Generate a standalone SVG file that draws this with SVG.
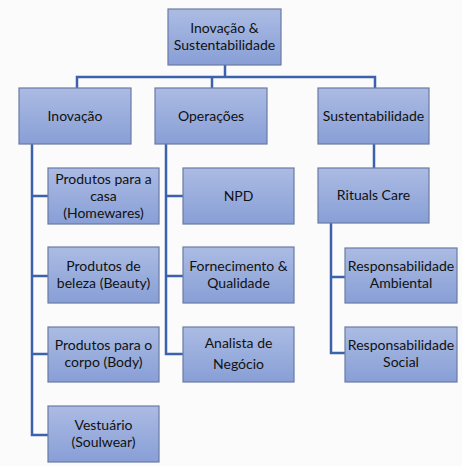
<svg xmlns="http://www.w3.org/2000/svg" width="462" height="466" viewBox="0 0 462 466">
<defs>
<linearGradient id="g" x1="0" y1="0" x2="0" y2="1">
<stop offset="0" stop-color="#abbbe3"/>
<stop offset="1" stop-color="#889fd6"/>
</linearGradient>
</defs>
<style>
.box{fill:url(#g);stroke:#6b7ba3;stroke-width:1.2}
.t{font-family:Lato,"Liberation Sans",sans-serif;font-size:14px;fill:#111;text-anchor:middle}
.c{fill:none;stroke:#3d62ad;stroke-width:2.5}
</style>
<rect width="462" height="466" fill="#fbfbfb"/>
<g id="connectors">
<path class="c" d="M225 65V77M77 88V77H375V88M212 77V88"/>
<path class="c" d="M32 144V435H48M32 196H48M32 276H48M32 354H48"/>
<path class="c" d="M166 144V354H183M166 196H183M166 276H183"/>
<path class="c" d="M374 144V168"/>
<path class="c" d="M331 223V353H345M331 277H345"/>
</g>
<g id="root"><rect class="box" x="168" y="9" width="113" height="56"/><text class="t" x="224.5" y="33">Inovação &amp;</text><text class="t" x="224.5" y="50">Sustentabilidade</text></g>
<g id="inovacao"><rect class="box" x="19" y="88" width="112" height="56"/><text class="t" x="75" y="121">Inovação</text></g>
<g id="operacoes"><rect class="box" x="155" y="88" width="112" height="56"/><text class="t" x="211" y="121">Operações</text></g>
<g id="sustentabilidade"><rect class="box" x="318" y="88" width="111" height="56"/><text class="t" x="373.5" y="121">Sustentabilidade</text></g>
<g id="casa"><rect class="box" x="48" y="168" width="111" height="56"/><text class="t" x="103.5" y="184">Produtos para a</text><text class="t" x="103.5" y="201">casa</text><text class="t" x="103.5" y="218">(Homewares)</text></g>
<g id="beleza"><rect class="box" x="48" y="247" width="111" height="56"/><text class="t" x="103.5" y="271">Produtos de</text><text class="t" x="103.5" y="288">beleza (Beauty)</text></g>
<g id="corpo"><rect class="box" x="48" y="327" width="111" height="55"/><text class="t" x="103.5" y="350">Produtos para o</text><text class="t" x="103.5" y="367">corpo (Body)</text></g>
<g id="vestuario"><rect class="box" x="48" y="406" width="111" height="56"/><text class="t" x="103.5" y="430">Vestuário</text><text class="t" x="103.5" y="447">(Soulwear)</text></g>
<g id="npd"><rect class="box" x="183" y="168" width="111" height="56"/><text class="t" x="238.5" y="201">NPD</text></g>
<g id="fornecimento"><rect class="box" x="183" y="247" width="111" height="56"/><text class="t" x="238.5" y="271">Fornecimento &amp;</text><text class="t" x="238.5" y="288">Qualidade</text></g>
<g id="analista"><rect class="box" x="183" y="327" width="111" height="55"/><text class="t" x="238.5" y="348">Analista de</text><text class="t" x="238.5" y="369">Negócio</text></g>
<g id="rituals"><rect class="box" x="318" y="168" width="111" height="55"/><text class="t" x="373.5" y="200">Rituals Care</text></g>
<g id="ambiental"><rect class="box" x="345" y="248" width="112" height="55"/><text class="t" x="401" y="271">Responsabilidade</text><text class="t" x="401" y="288">Ambiental</text></g>
<g id="social"><rect class="box" x="345" y="327" width="112" height="55"/><text class="t" x="401" y="350">Responsabilidade</text><text class="t" x="401" y="367">Social</text></g>
</svg>
